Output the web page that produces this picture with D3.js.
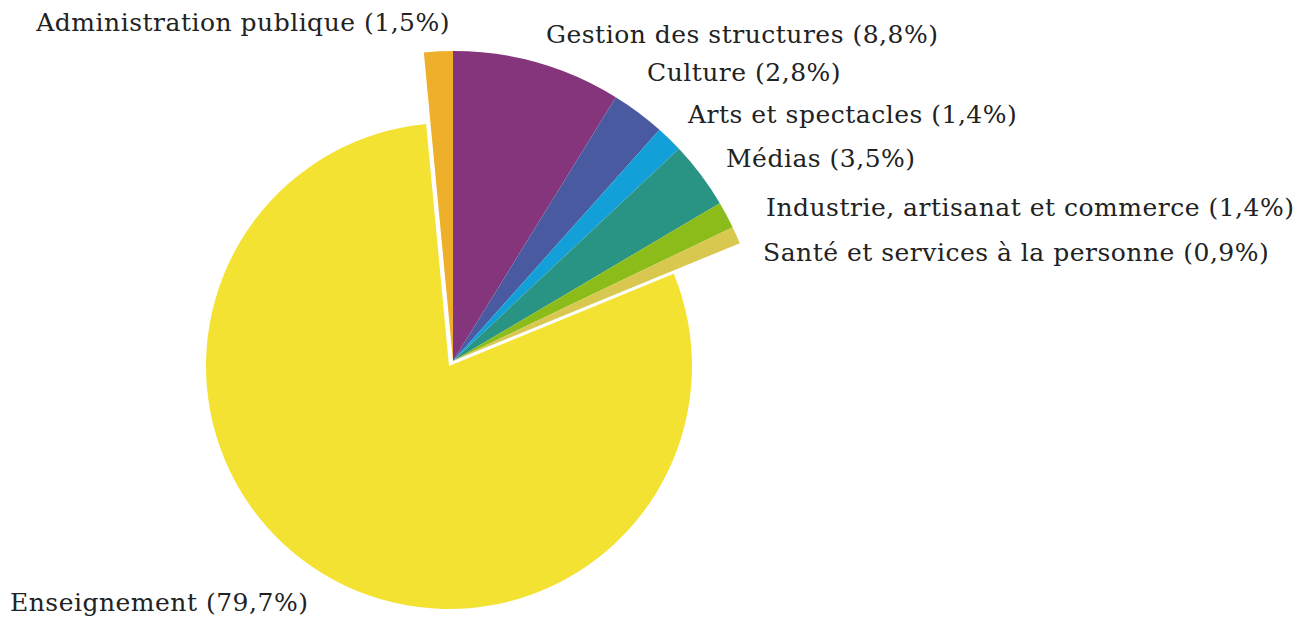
<!DOCTYPE html>
<html>
<head>
<meta charset="utf-8">
<script src="https://cdn.jsdelivr.net/npm/d3@7"></script>
<style>
  body { margin: 0; background: #fff; }
  text { font-family: "DejaVu Serif", Georgia, serif; fill: #222; }
</style>
</head>
<body>
<div id="chart"></div>
<script>
// data
const categories = [
  "Administration publique",
  "Gestion des structures",
  "Culture",
  "Arts et spectacles",
  "Médias",
  "Industrie, artisanat et commerce",
  "Santé et services à la personne",
  "Enseignement"
];
const shares = [1.5, 8.8, 2.8, 1.4, 3.5, 1.4, 0.9, 79.7];
const colors = ["#eeb02a", "#84357c", "#4a5aa0", "#13a0d8", "#2a9484", "#8cbc1a", "#d8c850", "#f3e232"];

// label layout (x, baseline y, anchor)
const labelPos = [
  [450, 31, "end"],
  [546, 43, "start"],
  [647, 81, "start"],
  [688, 123, "start"],
  [726, 167, "start"],
  [766, 216, "start"],
  [763, 261, "start"],
  [10, 611, "start"]
];

const width = 1303, height = 619;
const svg = d3.select("#chart").append("svg")
  .attr("width", width)
  .attr("height", height);

const start = -shares[0] / 100 * 2 * Math.PI;
const pie = d3.pie().sort(null).value(d => d)
  .startAngle(start).endAngle(start + 2 * Math.PI);
const arcs = pie(shares);

const bigR = 243, smallR = 310;
const bigArc = d3.arc().innerRadius(0).outerRadius(bigR);
const smallArc = d3.arc().innerRadius(0).outerRadius(smallR);

// main slice
svg.append("g")
  .attr("transform", "translate(449,366)")
  .append("path")
  .attr("d", bigArc(arcs[7]))
  .attr("fill", colors[7]);

// the pulled-out group of small slices
const grp = svg.append("g").attr("transform", "translate(453,361)");
const first = arcs[0], last = arcs[6];
grp.append("path")
  .attr("d", smallArc({startAngle: first.startAngle, endAngle: last.endAngle}))
  .attr("fill", "#fff")
  .attr("stroke", "#fff")
  .attr("stroke-width", 5)
  .attr("stroke-linejoin", "miter");
grp.selectAll("path.slice")
  .data(arcs.slice(0, 7))
  .enter().append("path")
  .attr("class", "slice")
  .attr("d", smallArc)
  .attr("fill", (d, i) => colors[i]);

// labels
svg.selectAll("text.lbl")
  .data(categories)
  .enter().append("text")
  .attr("class", "lbl")
  .attr("x", (d, i) => labelPos[i][0])
  .attr("y", (d, i) => labelPos[i][1])
  .attr("text-anchor", (d, i) => labelPos[i][2])
  .style("font-size", "25px")
  .style("letter-spacing", "0.5px")
  .text((d, i) => d + " (" + String(shares[i]).replace(".", ",") + "%)");
</script>
</body>
</html>
